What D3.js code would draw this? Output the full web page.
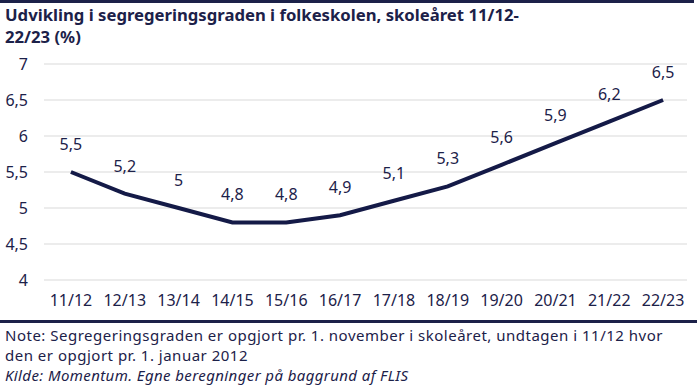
<!DOCTYPE html>
<html lang="da">
<head>
<meta charset="UTF-8">
<title>Segregeringsgraden i folkeskolen</title>
<script src="https://cdn.jsdelivr.net/npm/d3@7"></script>
<style>
    body { margin: 0; background: #fff; }
    text { font-family: "Noto Sans", Lato, sans-serif; fill: #1c2149; }
</style>
</head>
<body>
<div id="chart"></div>
<script>
// data
const years = ["11/12", "12/13", "13/14", "14/15", "15/16", "16/17",
               "17/18", "18/19", "19/20", "20/21", "21/22", "22/23"];
const segregation = [5.5, 5.2, 5, 4.8, 4.8, 4.9, 5.1, 5.3, 5.6, 5.9, 6.2, 6.5];
const yTicks = [4, 4.5, 5, 5.5, 6, 6.5, 7];

const titleLines = ["Udvikling i segregeringsgraden i folkeskolen, skoleåret 11/12-", "22/23 (%)"];
const noteLines = ["Note: Segregeringsgraden er opgjort pr. 1. november i skoleåret, undtagen i 11/12 hvor",
                   "den er opgjort pr. 1. januar 2012"];
const sourceLine = "Kilde: Momentum. Egne beregninger på baggrund af FLIS";

const width = 700, height = 388;
const navy = "#1c2149";
const margin = { left: 44, right: 10, top: 64, bottom: 108 };

const fmt = v => String(v).replace(".", ",");

const svg = d3.select("#chart").append("svg")
    .attr("width", width)
    .attr("height", height);

// top rule
svg.append("rect").attr("x", 0).attr("y", 0).attr("width", 694).attr("height", 3).attr("fill", navy);

svg.selectAll(".title")
    .data(titleLines)
    .enter().append("text")
    .attr("class", "title")
    .attr("x", 5)
    .attr("y", (d, i) => 21 + i * 22)
    .attr("font-size", "16.7px")
    .attr("font-weight", "bold")
    .text(d => d);

const x = d3.scaleBand()
    .domain(years)
    .range([margin.left, width - margin.right]);

const y = d3.scaleLinear()
    .domain([4, 7])
    .range([280, 64]);

// gridlines
svg.append("g")
    .selectAll("line")
    .data(yTicks)
    .enter().append("line")
    .attr("x1", margin.left)
    .attr("x2", 687)
    .attr("y1", d => y(d))
    .attr("y2", d => y(d))
    .attr("stroke", "#d9d9d9")
    .attr("stroke-width", 1);

// y axis labels
const yAxis = svg.append("g")
    .attr("transform", `translate(${margin.left},0)`)
    .call(d3.axisLeft(y).tickValues(yTicks).tickFormat(fmt).tickSize(0).tickPadding(16));
yAxis.select(".domain").remove();
yAxis.selectAll("text").attr("font-size", "16px").attr("font-family", null).attr("fill", navy);

// x axis labels
const xAxis = svg.append("g")
    .attr("transform", "translate(0,291)")
    .call(d3.axisBottom(x).tickSize(0).tickPadding(4));
xAxis.select(".domain").remove();
xAxis.selectAll("text").attr("font-size", "16px").attr("font-family", null).attr("fill", navy);

const line = d3.line()
    .x((d, i) => x(years[i]) + x.bandwidth() / 2)
    .y(d => y(d));

svg.append("path")
    .datum(segregation)
    .attr("d", line)
    .attr("fill", "none")
    .attr("stroke", "#141a47")
    .attr("stroke-width", 4);

svg.selectAll(".lbl")
    .data(segregation)
    .enter().append("text")
    .attr("class", "lbl")
    .attr("x", (d, i) => x(years[i]) + x.bandwidth() / 2)
    .attr("y", d => y(d) - 22)
    .attr("text-anchor", "middle")
    .attr("font-size", "16px")
    .text(fmt);

// bottom rule
svg.append("rect").attr("x", 0).attr("y", 320).attr("width", 697).attr("height", 3).attr("fill", navy);

svg.selectAll(".note")
    .data(noteLines)
    .enter().append("text")
    .attr("class", "note")
    .attr("x", 5)
    .attr("y", (d, i) => 341 + i * 20)
    .attr("font-size", "15px")
    .attr("letter-spacing", "0.5px")
    .text(d => d);

svg.append("text")
    .attr("x", 5)
    .attr("y", 381)
    .attr("font-size", "15px")
    .attr("letter-spacing", "0.4px")
    .attr("font-style", "italic")
    .text(sourceLine);
</script>
</body>
</html>
